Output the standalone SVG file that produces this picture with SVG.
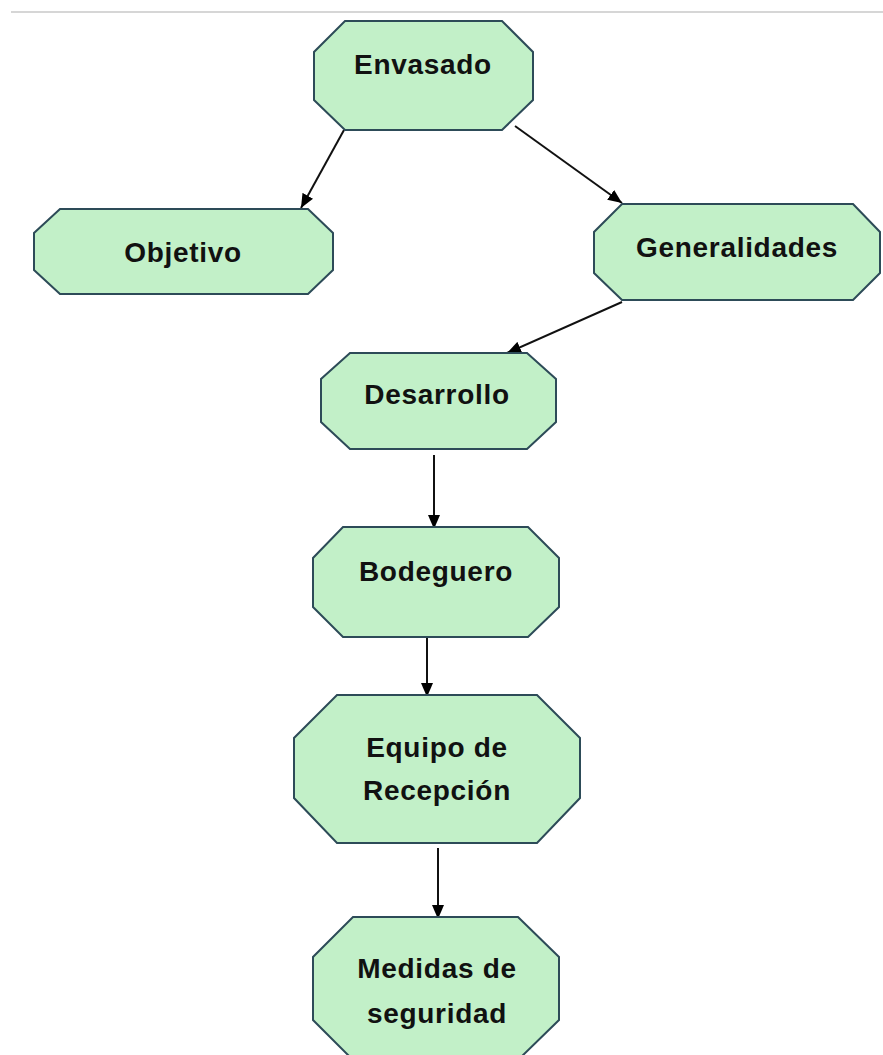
<svg xmlns="http://www.w3.org/2000/svg" width="883" height="1055" viewBox="0 0 883 1055">
<style>
.node{fill:#c2f0c8;stroke:#2d4b58;stroke-width:2;stroke-linejoin:miter}
.lbl{font-family:"Liberation Sans",Arial,sans-serif;font-weight:bold;font-size:28px;letter-spacing:0.7px;fill:#111;text-anchor:middle}
.edge{stroke:#111;stroke-width:2;fill:none}
</style>
<defs>
<marker id="arr" viewBox="0 0 14 12" refX="14" refY="6" markerWidth="14" markerHeight="12" markerUnits="userSpaceOnUse" orient="auto">
<path d="M0,0 L14,6 L0,12 Z" fill="#000"/>
</marker>
</defs>
<rect width="883" height="1055" fill="#fff"/>
<line x1="11" y1="12" x2="883" y2="12" stroke="#d6d6d6" stroke-width="2"/>
<g id="connectors">
<line class="edge" x1="344" y1="130" x2="301" y2="208" marker-end="url(#arr)"/>
<line class="edge" x1="515" y1="126" x2="622" y2="203" marker-end="url(#arr)"/>
<line class="edge" x1="622" y1="302" x2="507" y2="353" marker-end="url(#arr)"/>
<line class="edge" x1="434" y1="455" x2="434" y2="529" marker-end="url(#arr)"/>
<line class="edge" x1="427" y1="637" x2="427" y2="697" marker-end="url(#arr)"/>
<line class="edge" x1="438" y1="848" x2="438" y2="919" marker-end="url(#arr)"/>
</g>
<g id="envasado">
<polygon class="node" points="345,21 502,21 533,52 533,100 502,130 345,130 314,100 314,52"/>
<text class="lbl" x="423" y="74">Envasado</text>
</g>
<g id="objetivo">
<polygon class="node" points="60,209 308,209 333,233 333,270 308,294 60,294 34,270 34,233"/>
<text class="lbl" x="183" y="262">Objetivo</text>
</g>
<g id="generalidades">
<polygon class="node" points="622,204 853,204 880,232 880,273 853,300 622,300 594,273 594,232"/>
<text class="lbl" x="737" y="257">Generalidades</text>
</g>
<g id="desarrollo">
<polygon class="node" points="350,353 527,353 556,379 556,422 527,449 350,449 321,422 321,379"/>
<text class="lbl" x="437" y="404">Desarrollo</text>
</g>
<g id="bodeguero">
<polygon class="node" points="343,527 528,527 559,558 559,607 528,637 343,637 313,607 313,558"/>
<text class="lbl" x="436" y="581">Bodeguero</text>
</g>
<g id="equipo">
<polygon class="node" points="337,695 537,695 580,738 580,798 537,843 337,843 294,798 294,738"/>
<text class="lbl" x="437" y="757">Equipo de</text>
<text class="lbl" x="437" y="800">Recepción</text>
</g>
<g id="medidas">
<polygon class="node" points="353,917 518,917 559,957 559,1020 518,1060 353,1060 313,1020 313,957"/>
<text class="lbl" x="437" y="978">Medidas de</text>
<text class="lbl" x="437" y="1023">seguridad</text>
</g>
</svg>
